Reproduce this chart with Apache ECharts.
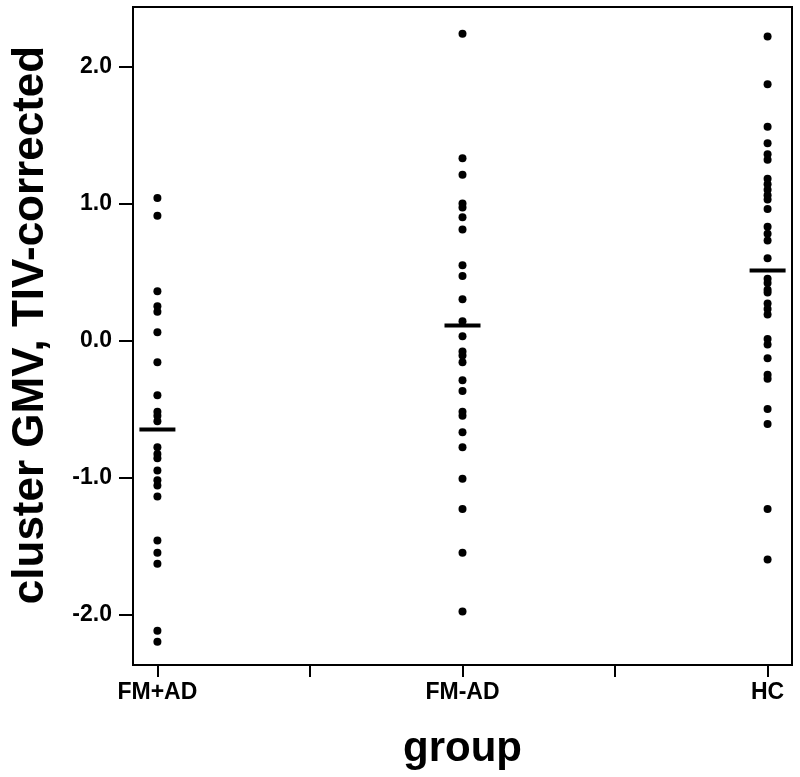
<!DOCTYPE html>
<html>
<head>
<meta charset="utf-8">
<script src="https://cdn.jsdelivr.net/npm/echarts@6/dist/echarts.min.js"></script>
<style>
html,body{margin:0;padding:0;background:#fff;}
#chart{width:800px;height:777px;}
</style>
</head>
<body>
<div id="chart"></div>
<script>
var categories = ['FM+AD', 'FM-AD', 'HC'];
var fmPlusAD = [1.04, 0.91, 0.36, 0.25, 0.21, 0.06, -0.16, -0.40, -0.52, -0.55, -0.59, -0.78, -0.83, -0.86, -0.95, -1.02, -1.06, -1.14, -1.46, -1.55, -1.63, -2.12, -2.20];
var fmMinusAD = [2.24, 1.33, 1.21, 1.00, 0.97, 0.90, 0.81, 0.55, 0.47, 0.30, 0.14, 0.03, -0.08, -0.11, -0.16, -0.29, -0.37, -0.52, -0.55, -0.67, -0.78, -1.01, -1.23, -1.55, -1.98];
var hc = [2.22, 1.87, 1.56, 1.44, 1.36, 1.32, 1.18, 1.14, 1.10, 1.06, 1.03, 0.96, 0.83, 0.78, 0.73, 0.60, 0.45, 0.42, 0.37, 0.35, 0.27, 0.23, 0.19, 0.01, -0.03, -0.13, -0.25, -0.28, -0.50, -0.61, -1.23, -1.60];
var means = [-0.65, 0.11, 0.51];
var yTicks = [-2, -1, 0, 1, 2];
var xTicks = [0, 0.5, 1, 1.5, 2];

var groups = [fmPlusAD, fmMinusAD, hc];
var points = [];
groups.forEach(function (arr, gi) {
  arr.forEach(function (v) { points.push([gi, v]); });
});
var meanPoints = means.map(function (m, i) { return [i, m]; });

var chart = echarts.init(document.getElementById('chart'), null, {renderer: 'canvas'});
var font = '"Liberation Sans", Arial, sans-serif';
chart.setOption({
  animation: false,
  backgroundColor: '#fff',
  grid: {left: 133, right: 8, top: 7, bottom: 112, show: true, borderColor: '#000', borderWidth: 2, backgroundColor: 'transparent', containLabel: false, outerBoundsMode: 'none'},
  xAxis: {
    type: 'value', min: -0.08, max: 2.08,
    name: 'group', nameLocation: 'middle', nameGap: 63,
    nameTextStyle: {fontFamily: font, fontSize: 42, fontWeight: 'bold', color: '#000'},
    axisLine: {show: true, onZero: false, lineStyle: {color: '#000', width: 2}},
    axisTick: {show: true, customValues: xTicks, length: 12, lineStyle: {color: '#000', width: 2}},
    axisLabel: {customValues: [0, 1, 2], margin: 16, fontFamily: font, fontWeight: 'bold', fontSize: 23, color: '#000',
      formatter: function (v) { return categories[Math.round(v)]; }},
    splitLine: {show: false}
  },
  yAxis: {
    type: 'value', min: -2.37, max: 2.435,
    name: 'cluster GMV, TIV-corrected', nameLocation: 'middle', nameGap: 80, nameRotate: 90,
    nameTextStyle: {fontFamily: font, fontSize: 44, fontWeight: 'bold', color: '#000', padding: [0, 0, 0, 22]},
    axisLine: {show: true, onZero: false, lineStyle: {color: '#000', width: 2}},
    axisTick: {show: true, customValues: yTicks, length: 14, lineStyle: {color: '#000', width: 2}},
    axisLabel: {customValues: yTicks, margin: 21, fontFamily: font, fontWeight: 'bold', fontSize: 23, color: '#000',
      formatter: function (v) { return v.toFixed(1); }},
    splitLine: {show: false}
  },
  series: [
    {type: 'scatter', data: points, symbol: 'circle', symbolSize: 8, itemStyle: {color: '#000', opacity: 1}},
    {type: 'scatter', data: meanPoints, symbol: 'rect', symbolSize: [36, 4], itemStyle: {color: '#000', opacity: 1}, z: 3}
  ]
});
</script>
</body>
</html>
